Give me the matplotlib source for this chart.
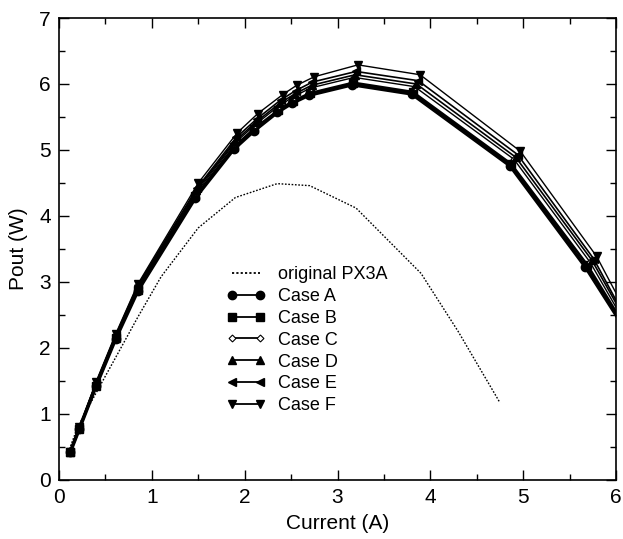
import matplotlib
matplotlib.use("Agg")
import matplotlib.pyplot as plt
from matplotlib.ticker import MultipleLocator

plt.rcParams['font.family'] = ['Liberation Sans', 'DejaVu Sans']

# original PX3A (dotted)
orig_i = [0.1, 0.2, 0.4, 0.6, 0.85, 1.1, 1.5, 1.9, 2.35, 2.7, 3.2, 3.9, 4.3, 4.75]
orig_p = [0.42, 0.80, 1.32, 1.83, 2.47, 3.08, 3.82, 4.28, 4.49, 4.46, 4.12, 3.13, 2.25, 1.17]

case_a_i = [0.12, 0.22, 0.40, 0.61, 0.85, 1.47, 1.88, 2.10, 2.35, 2.51, 2.69, 3.16, 3.80, 4.86, 5.67, 6.2]
case_a_p = [0.42, 0.78, 1.43, 2.14, 2.87, 4.28, 5.01, 5.29, 5.57, 5.71, 5.83, 5.99, 5.85, 4.76, 3.23, 2.06]

case_b_i = [0.12, 0.22, 0.40, 0.61, 0.85, 1.47, 1.88, 2.10, 2.36, 2.52, 2.70, 3.17, 3.81, 4.87, 5.69, 6.2]
case_b_p = [0.42, 0.78, 1.43, 2.15, 2.88, 4.30, 5.04, 5.32, 5.60, 5.74, 5.86, 6.02, 5.88, 4.79, 3.26, 2.09]

case_c_i = [0.12, 0.22, 0.40, 0.61, 0.85, 1.48, 1.89, 2.11, 2.37, 2.53, 2.71, 3.18, 3.83, 4.90, 5.72, 6.2]
case_c_p = [0.42, 0.79, 1.45, 2.17, 2.91, 4.36, 5.10, 5.38, 5.67, 5.81, 5.94, 6.10, 5.96, 4.86, 3.30, 2.13]

case_d_i = [0.12, 0.22, 0.40, 0.61, 0.85, 1.48, 1.90, 2.12, 2.38, 2.54, 2.72, 3.19, 3.85, 4.92, 5.74, 6.2]
case_d_p = [0.42, 0.79, 1.46, 2.18, 2.93, 4.39, 5.14, 5.42, 5.71, 5.85, 5.98, 6.14, 6.00, 4.89, 3.33, 2.18]

case_e_i = [0.12, 0.22, 0.40, 0.61, 0.85, 1.49, 1.91, 2.13, 2.39, 2.55, 2.73, 3.20, 3.87, 4.94, 5.76, 6.2]
case_e_p = [0.43, 0.80, 1.47, 2.19, 2.95, 4.43, 5.19, 5.47, 5.76, 5.90, 6.03, 6.19, 6.05, 4.93, 3.35, 2.20]

case_f_i = [0.12, 0.22, 0.40, 0.61, 0.85, 1.50, 1.92, 2.14, 2.41, 2.56, 2.75, 3.22, 3.89, 4.97, 5.79, 6.2]
case_f_p = [0.43, 0.80, 1.49, 2.21, 2.97, 4.50, 5.26, 5.55, 5.84, 5.98, 6.11, 6.29, 6.14, 4.98, 3.39, 2.30]

fig = plt.figure(figsize=(6.23, 5.39), dpi=100)
ax = fig.add_axes([0.0947, 0.1095, 0.8941, 0.8571])

ax.plot(orig_i, orig_p, color='black', lw=1.0, linestyle=(0, (1.2, 1.2)),
        label='original PX3A')
ax.plot(case_a_i, case_a_p, color='black', lw=2.6, marker='o', ms=6,
        label='Case A')
ax.plot(case_b_i, case_b_p, color='black', lw=1.8, marker='s', ms=5.5,
        label='Case B')
ax.plot(case_c_i, case_c_p, color='black', lw=1.0, marker='D', ms=3.5,
        mfc='white', mew=0.8, label='Case C')
ax.plot(case_d_i, case_d_p, color='black', lw=1.2, marker='^', ms=5.5,
        label='Case D')
ax.plot(case_e_i, case_e_p, color='black', lw=1.2, marker='<', ms=5.5,
        label='Case E')
ax.plot(case_f_i, case_f_p, color='black', lw=1.0, marker='v', ms=5.5,
        label='Case F')

ax.set_xlim(0, 6)
ax.set_ylim(0, 7)
ax.xaxis.set_major_locator(MultipleLocator(1))
ax.xaxis.set_minor_locator(MultipleLocator(0.5))
ax.yaxis.set_major_locator(MultipleLocator(1))
ax.yaxis.set_minor_locator(MultipleLocator(0.5))
ax.tick_params(which='both', direction='in', top=True, right=True,
               labelsize=15, width=1)
ax.tick_params(which='major', length=7, pad=6)
ax.tick_params(which='minor', length=4)
for s in ax.spines.values():
    s.set_linewidth(1.2)

ax.set_xlabel('Current (A)', fontsize=15, labelpad=5)
ax.set_ylabel('Pout (W)', fontsize=15, labelpad=8)

leg = ax.legend(loc='upper left', bbox_to_anchor=(0.30, 0.463), frameon=False,
                fontsize=13, numpoints=2, handlelength=2.2, handletextpad=0.65,
                labelspacing=0.27, borderaxespad=0, borderpad=0)
for h in leg.get_lines():
    h.set_linewidth(1.3)

fig.savefig('out.png', dpi=100)
